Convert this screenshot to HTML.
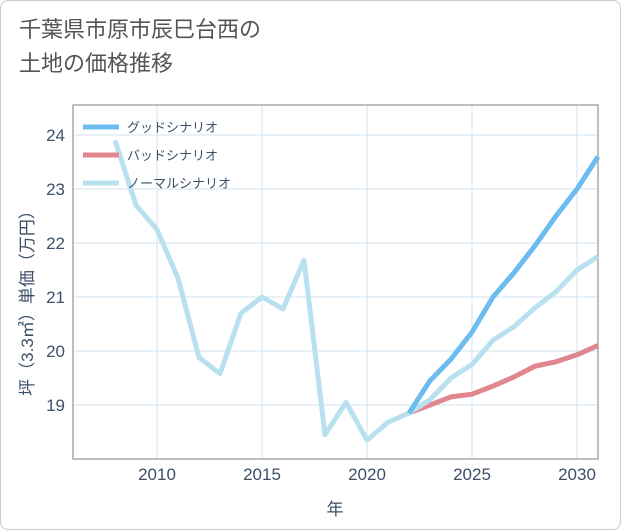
<!DOCTYPE html>
<html><head><meta charset="utf-8"><style>
body{margin:0;background:#fff;font-family:"Liberation Sans","Noto Sans CJK JP",sans-serif;}
#card{position:absolute;left:0;top:0;width:619px;height:528px;border:1px solid #ccc;border-radius:8px;background:#fff;}
#title{position:absolute;left:18px;top:12px;font-size:22px;line-height:34px;color:#555;}
</style></head><body>
<div id="card">
<div id="title">千葉県市原市辰巳台西の<br>土地の価格推移</div>
<svg id="chart" width="621" height="530" style="position:absolute;left:0;top:0"></svg>
</div>
<script>
const years=[2008,2009,2010,2011,2012,2013,2014,2015,2016,2017,2018,2019,2020,2021,2022,2023,2024,2025,2026,2027,2028,2029,2030,2031];
const normal=[23.9,22.7,22.25,21.35,19.88,19.58,20.7,21.0,20.78,21.68,18.45,19.05,18.35,18.68,18.85,19.1,19.5,19.75,20.2,20.45,20.8,21.1,21.5,21.75];
const futureYears=[2022,2023,2024,2025,2026,2027,2028,2029,2030,2031];
const good=[18.85,19.45,19.85,20.35,21.0,21.45,21.95,22.5,23.0,23.6];
const bad=[18.85,19.0,19.15,19.2,19.35,19.52,19.72,19.8,19.93,20.1];
const xTicks=[2010,2015,2020,2025,2030];
const yTicks=[19,20,21,22,23,24];
const X0=72,X1=597,Y0=458,Y1=104;
const xs=v=>X0+(v-2006)*(X1-X0)/25;
const ys=v=>458-(v-18)*54;
const svg=document.getElementById('chart');
const NS='http://www.w3.org/2000/svg';
function mk(t,a){const e=document.createElementNS(NS,t);for(const k in a)e.setAttribute(k,a[k]);svg.appendChild(e);return e;}
xTicks.forEach(t=>{const l=mk('line',{x1:xs(t),x2:xs(t),y1:Y1,y2:Y0,stroke:'#cfe3ef'});


const tx=mk('text',{x:xs(t),y:479,'text-anchor':'middle','font-size':17,fill:'#3d5068'});tx.textContent=t;

});
yTicks.forEach(t=>{const l=mk('line',{x1:X0,x2:X1,y1:ys(t),y2:ys(t),stroke:'#cfe3ef'});


const tx=mk('text',{x:64,y:ys(t)+6,'text-anchor':'end','font-size':17,fill:'#3d5068'});tx.textContent=t;

});
const ax=mk('rect',{x:X0,y:Y1,width:X1-X0,height:Y0-Y1,stroke:'#aaa',fill:'none','stroke-width':1.5});


function line(xv,yv,c,n){const p=mk('polyline',{points:xv.map((x,i)=>xs(x)+','+ys(yv[i])).join(' '),fill:'none',stroke:c,'stroke-width':5,'stroke-linejoin':'round'});

}
line(futureYears,bad,'#e0868e','bad-scenario-line');
line(years,normal,'#b9e0ef','normal-scenario-line');
line(futureYears,good,'#6cbcf0','good-scenario-line');
[['グッドシナリオ','#6cbcf0',126],['バッドシナリオ','#e0868e',154],['ノーマルシナリオ','#b9e0ef',182]].forEach(([t,c,y],i)=>{
const l=mk('line',{x1:82,x2:118,y1:y,y2:y,stroke:c,'stroke-width':5});


const tx=mk('text',{x:126,y:y+5,'font-size':13,fill:'#3d5068'});tx.textContent=t;

});
const xt=mk('text',{x:334,y:514,'text-anchor':'middle','font-size':17,fill:'#3d5068'});xt.textContent='年';


const yt=mk('text',{x:0,y:0,'text-anchor':'middle','font-size':17,fill:'#3d5068',transform:'translate(32,298) rotate(-90)'});yt.textContent='坪（3.3㎡）単価（万円）';


</script>
</body></html>
